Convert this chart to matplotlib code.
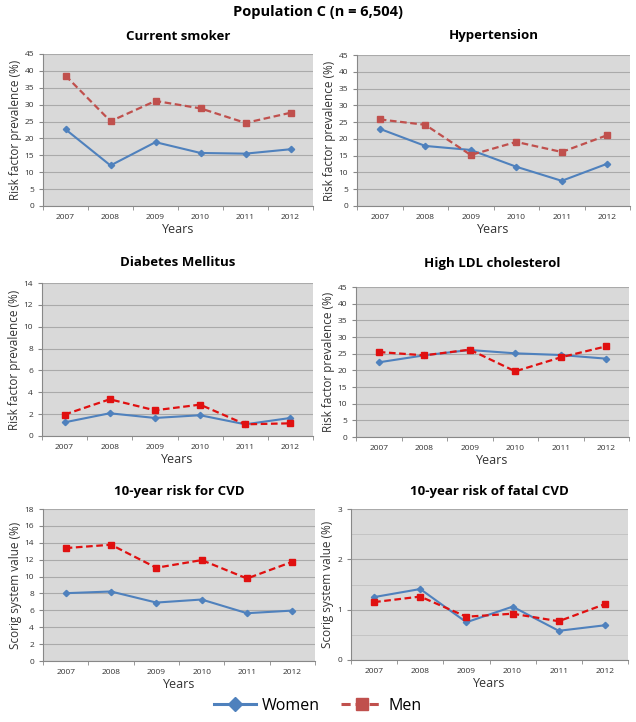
import matplotlib

matplotlib.use("Agg")
import matplotlib.pyplot as plt
from matplotlib.lines import Line2D
from matplotlib.ticker import MultipleLocator

plt.rcParams["font.family"] = ["Open Sans", "DejaVu Sans"]

years = ["2007", "2008", "2009", "2010", "2011", "2012"]

titles = ["Current smoker", "Hypertension", "Diabetes Mellitus",
          "High LDL cholesterol", "10-year risk for CVD", "10-year risk of fatal CVD"]
ylabels = ["Risk factor prevalence (%)"] * 4 + ["Scorig system value (%)"] * 2

women_smoker = [22.7, 12.0, 18.9, 15.7, 15.5, 16.8]
men_smoker = [38.6, 25.1, 31.1, 28.9, 24.6, 27.6]
women_htn = [23.0, 17.9, 16.7, 11.7, 7.5, 12.6]
men_htn = [25.8, 24.2, 15.2, 19.1, 16.1, 21.1]
women_dm = [1.25, 2.08, 1.65, 1.9, 1.07, 1.65]
men_dm = [1.96, 3.36, 2.35, 2.87, 1.07, 1.16]
women_ldl = [22.4, 24.5, 26.1, 25.1, 24.6, 23.5]
men_ldl = [25.5, 24.5, 26.2, 19.7, 23.9, 27.2]
women_cvd = [8.03, 8.23, 6.92, 7.28, 5.66, 5.97]
men_cvd = [13.37, 13.77, 11.04, 11.95, 9.77, 11.75]
women_fatal = [1.25, 1.41, 0.75, 1.06, 0.58, 0.69]
men_fatal = [1.15, 1.26, 0.86, 0.92, 0.77, 1.11]

women = [women_smoker, women_htn, women_dm, women_ldl, women_cvd, women_fatal]
men = [men_smoker, men_htn, men_dm, men_ldl, men_cvd, men_fatal]
ymax = [45, 45, 14, 45, 18, 3]
ystep = [5, 5, 2, 5, 2, 1]

BLUE = "#4f81bd"
MEN_COLORS = ["#c0504d", "#c0504d", "#e01010", "#e01010", "#e01010", "#e01010"]

# axes rectangles in pixels: left, right, top, bottom (636x722 canvas)
W, H = 636, 722
boxes = [(43, 313, 54, 206), (357, 630, 55, 206),
         (42, 313, 283, 436), (356, 629, 287, 437),
         (43, 315, 509, 661), (351, 628, 509, 660)]
title_y = [36, 36, 263, 263, 491, 491]

fig = plt.figure(figsize=(W / 100, H / 100), dpi=100)
fig.text(0.5, 1 - 12 / H, "Population C (n = 6,504)", ha="center", va="center",
         fontsize=10.5, fontweight="bold")

x = list(range(len(years)))
for i in range(6):
    l, r, t, b = boxes[i]
    ax = fig.add_axes([l / W, 1 - b / H, (r - l) / W, (b - t) / H])
    ax.set_facecolor("#d9d9d9")
    ax.plot(x, women[i], "-", color=BLUE, lw=1.5, marker="D", ms=3.2,
            zorder=3)
    ax.plot(x, men[i], "--", color=MEN_COLORS[i], lw=1.6, marker="s", ms=4,
            dashes=(3, 1.6), zorder=3)
    ax.set_xlim(-0.5, 5.5)
    ax.set_ylim(0, ymax[i])
    ax.yaxis.set_major_locator(MultipleLocator(ystep[i]))
    if i == 5:
        ax.yaxis.set_minor_locator(MultipleLocator(0.5))
        ax.grid(True, which="minor", axis="y", color="#c4c4c4", lw=0.7)
    ax.grid(True, which="major", axis="y", color="#aaaaaa", lw=0.8)
    ax.set_axisbelow(True)
    ax.set_xticks(x, years)
    ax.set_xticks([k - 0.5 for k in range(7)], minor=True)
    ax.tick_params(axis="x", which="major", length=0, labelsize=6, pad=6,
                   colors="#333333")
    ax.tick_params(axis="x", which="minor", length=3, color="#888888")
    ax.tick_params(axis="y", which="major", length=3, labelsize=6,
                   color="#888888", labelcolor="#333333")
    ax.tick_params(axis="y", which="minor", length=0)
    for s in ("top", "right"):
        ax.spines[s].set_visible(False)
    for s in ("left", "bottom"):
        ax.spines[s].set_color("#888888")
        ax.spines[s].set_linewidth(0.8)
    ax.set_xlabel("Years", fontsize=9, labelpad=1, color="#333333")
    ax.set_ylabel(ylabels[i], fontsize=8.5, labelpad=2, color="#333333")
    fig.text((l + r) / 2 / W, 1 - title_y[i] / H, titles[i], ha="center",
             va="center", fontsize=9.5, fontweight="bold")

handles = [Line2D([], [], color=BLUE, lw=2.2, marker="D", ms=7),
           Line2D([], [], color="#c0504d", lw=2.2, ls="--", marker="s", ms=8,
                  dashes=(3, 1.6))]
fig.legend(handles, ["Women", "Men"], loc="center", ncol=2,
           bbox_to_anchor=(0.5, 1 - 706 / H), frameon=False, fontsize=11.5,
           handlelength=2.6, handletextpad=0.4, columnspacing=1.3)

fig.savefig("out.png", dpi=100)
